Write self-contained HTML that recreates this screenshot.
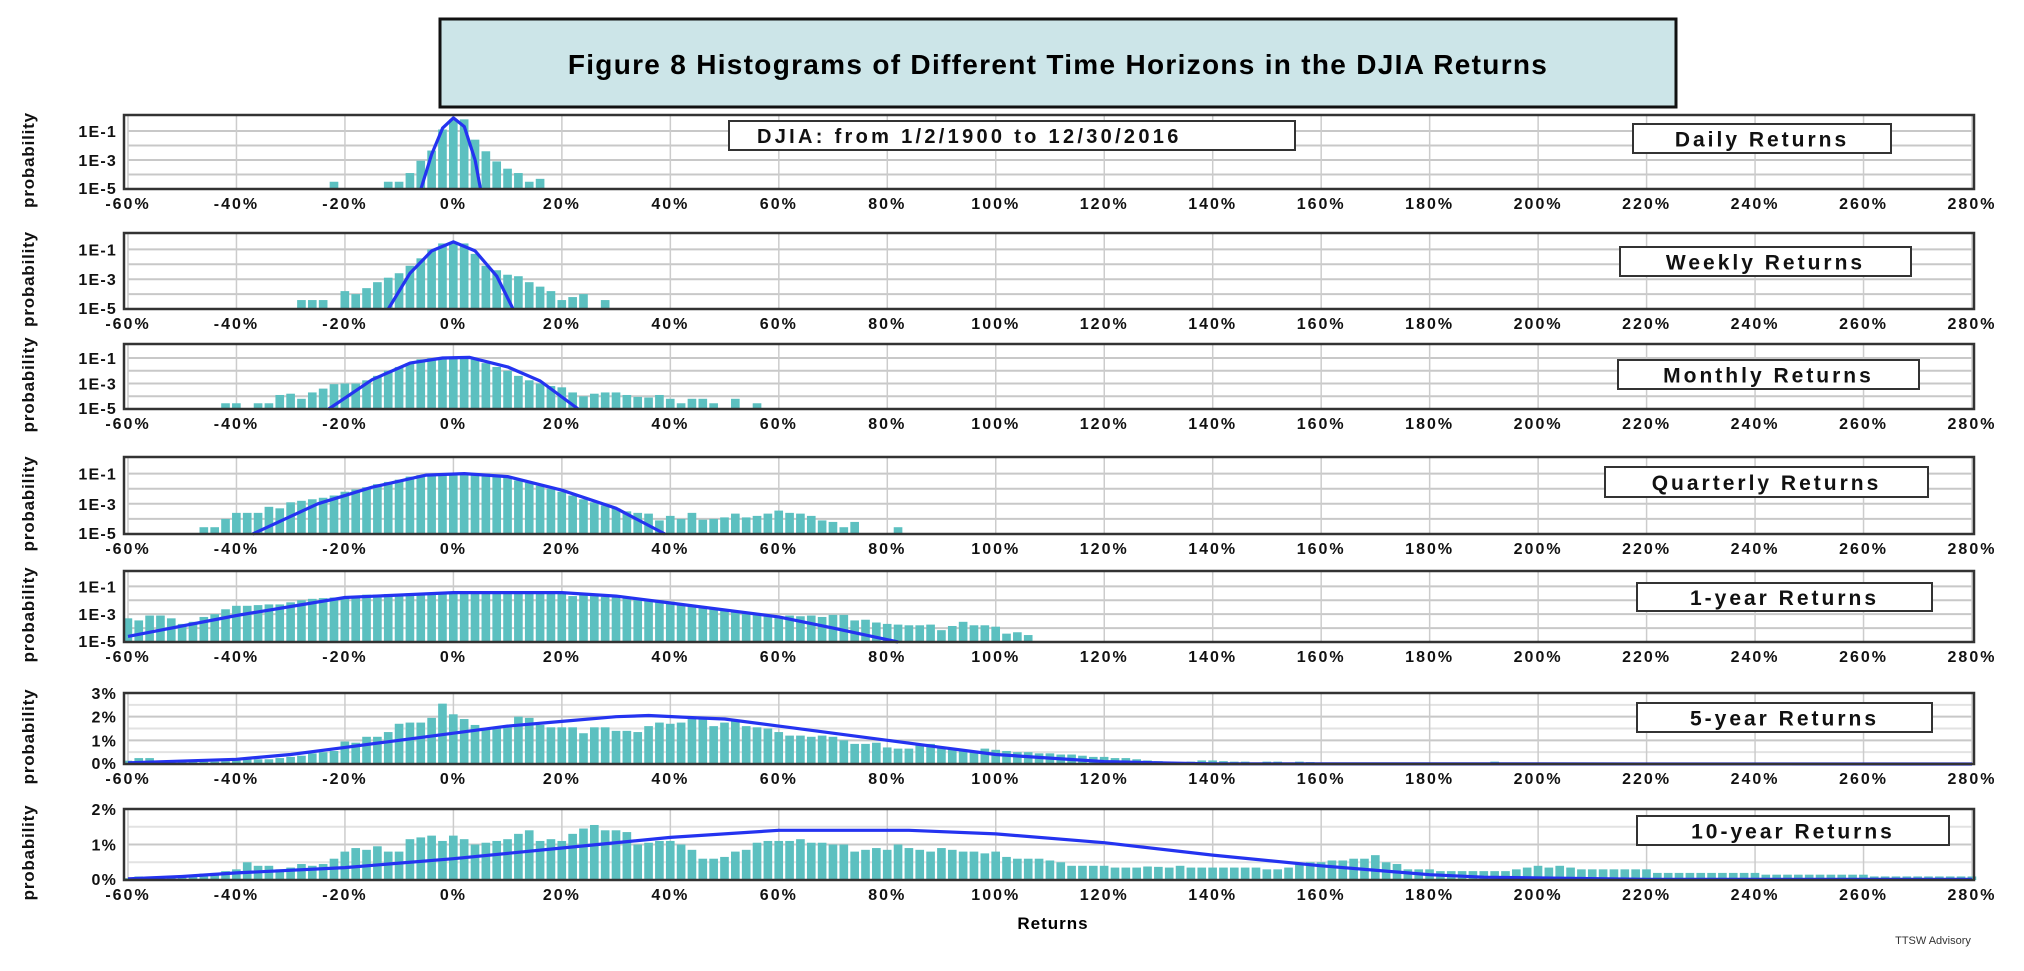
<!DOCTYPE html>
<html><head><meta charset="utf-8">
<style>
body{margin:0;background:#fff;width:2024px;height:966px;overflow:hidden;font-family:"Liberation Sans",Arial,sans-serif}
svg text{font-family:"Liberation Sans",Arial,sans-serif}
</style></head>
<body>
<svg id="chart" width="2024" height="966" xmlns="http://www.w3.org/2000/svg">
<rect x="440" y="19" width="1236" height="88" fill="#cce5e8" stroke="#111" stroke-width="3"/>
<text x="1058" y="74" text-anchor="middle" font-size="28" font-weight="bold" letter-spacing="1.3" fill="#000">Figure 8 Histograms of Different Time Horizons in the DJIA Returns</text>
<text x="1053" y="929" text-anchor="middle" font-size="17" font-weight="bold" letter-spacing="1">Returns</text>
<text x="1933" y="944" text-anchor="middle" font-size="11" fill="#333">TTSW Advisory</text>
<g id="panels"></g>
</svg>
<script>
// ---- data (bins every 2% of return) ----
const xTicks = [-60,-40,-20,0,20,40,60,80,100,120,140,160,180,200,220,240,260,280];
const logTickLabels = ["1E-1","1E-3","1E-5"];
const logTickValues = [-1,-3,-5];
const panelNames = ["Daily Returns","Weekly Returns","Monthly Returns","Quarterly Returns","1-year Returns","5-year Returns","10-year Returns"];

const dailyStart = -22;
const dailyLog = [-4.5,null,null,null,null,-4.5,-4.5,-3.9,-3.05,-2.35,-0.9,-0.2,-0.2,-1.6,-2.4,-3.1,-3.6,-3.9,-4.5,-4.3];
const dailyCurveX = [-6,-4,-2,0,2,4,5];
const dailyCurveY = [-5,-2.6,-0.8,-0.1,-0.7,-3,-5];

const weeklyStart = -28;
const weeklyLog = [-4.4,-4.4,-4.4,null,-3.8,-4.0,-3.6,-3.2,-2.9,-2.6,-2.1,-1.6,-1.0,-0.6,-0.5,-0.6,-1.3,-2.1,-2.4,-2.7,-2.8,-3.2,-3.5,-3.8,-4.4,-4.2,-4.0,null,-4.4];
const weeklyCurveX = [-12,-8,-4,0,4,8,11];
const weeklyCurveY = [-5,-2.6,-1.1,-0.5,-1.1,-2.8,-5];

const monthlyStart = -42;
const monthlyLog = [-4.55,-4.55,null,-4.55,-4.55,-3.9,-3.8,-4.2,-3.7,-3.4,-3.05,-3,-3,-2.75,-2.4,-2,-1.7,-1.4,-1.1,-1,-1,-1,-1,-1.1,-1.4,-1.7,-2,-2.4,-2.75,-3,-3.2,-3.3,-3.7,-4,-3.8,-3.7,-3.7,-3.9,-4.05,-4.1,-3.9,-4.2,-4.55,-4.2,-4.2,-4.55,null,-4.2,null,-4.55];
const monthlyCurveX = [-23,-15,-8,-2,3,10,16,23];
const monthlyCurveY = [-5,-2.7,-1.4,-1,-0.95,-1.7,-2.8,-5];

const quarterlyStart = -46;
const quarterlyLog = [-4.55,-4.55,-4,-3.6,-3.6,-3.6,-3.2,-3.3,-2.9,-2.8,-2.7,-2.6,-2.45,-2.2,-2.05,-1.9,-1.7,-1.55,-1.4,-1.2,-1.1,-1.05,-1,-1,-1,-1,-1,-1.1,-1.2,-1.45,-1.6,-1.8,-2,-2.2,-2.45,-2.7,-2.9,-3.1,-3.3,-3.5,-3.6,-3.65,-4.1,-3.8,-4,-3.6,-4.05,-4,-3.9,-3.65,-3.9,-3.8,-3.65,-3.45,-3.6,-3.65,-3.8,-4.1,-4.2,-4.55,-4.2,null,null,null,-4.55];
const quarterlyCurveX = [-37,-25,-15,-5,2,10,20,30,39];
const quarterlyCurveY = [-5,-3,-1.9,-1.1,-1,-1.2,-2.1,-3.3,-5];

const yearStart = -60;
const yearLog = [-3.3,-3.45,-3.1,-3.1,-3.3,-3.7,-3.55,-3.2,-3,-2.65,-2.4,-2.4,-2.35,-2.3,-2.3,-2.15,-2.0,-1.9,-1.85,-1.8,-1.8,-1.7,-1.6,-1.6,-1.55,-1.55,-1.5,-1.5,-1.45,-1.45,-1.45,-1.45,-1.45,-1.45,-1.45,-1.45,-1.45,-1.45,-1.45,-1.45,-1.45,-1.7,-1.6,-1.7,-1.75,-1.8,-1.85,-1.9,-1.95,-2.0,-2.1,-2.25,-2.35,-2.5,-2.6,-2.75,-2.85,-2.95,-3.0,-3.1,-3.2,-3.1,-3.15,-3.1,-3.2,-3.05,-3.05,-3.45,-3.4,-3.6,-3.7,-3.75,-3.8,-3.8,-3.75,-4.15,-3.85,-3.55,-3.8,-3.8,-3.9,-4.4,-4.3,-4.5];
const yearCurveX = [-60,-40,-20,0,20,30,40,60,70,82];
const yearCurveY = [-4.6,-3.1,-1.8,-1.45,-1.45,-1.7,-2.2,-3.2,-4,-5];

const fiveStart = -60;
const fivePct = [0.14,0.25,0.25,0.1,0.1,0.1,0.1,0.1,0.1,0.12,0.15,0.2,0.2,0.2,0.25,0.3,0.35,0.45,0.5,0.55,0.95,0.9,1.15,1.15,1.35,1.7,1.75,1.75,1.95,2.55,2.1,1.9,1.65,1.45,1.5,1.6,2.0,1.95,1.65,1.55,1.55,1.55,1.3,1.55,1.55,1.4,1.4,1.35,1.6,1.75,1.7,1.75,1.95,1.9,1.6,1.75,1.85,1.6,1.55,1.5,1.35,1.2,1.2,1.15,1.2,1.15,1.0,0.85,0.85,0.9,0.7,0.65,0.65,0.85,0.85,0.7,0.6,0.55,0.55,0.65,0.6,0.55,0.5,0.5,0.45,0.45,0.4,0.4,0.35,0.3,0.3,0.25,0.25,0.2,0.15,0.12,0.1,0.08,0.1,0.15,0.15,0.12,0.1,0.1,0.06,0.1,0.1,0.06,0.1,0.08,0.05,0.05,0.06,0.05,0.05,0.05,0.05,0.05,0.05,0.05,0.05,0.06,0.06,0.05,0.05,0.05,0.1,0.05,0.05,0.05,0.05,0.05];
const fiveCurveX = [-60,-40,-30,-20,-10,0,10,20,30,36,45,50,60,70,80,90,100,110,120,130,140,280];
const fiveCurveY = [0.05,0.2,0.4,0.7,1.0,1.3,1.6,1.8,2.0,2.05,1.95,1.9,1.6,1.3,1.0,0.7,0.4,0.25,0.1,0.05,0.01,0];
const fiveTickLabels = ["3%","2%","1%","0%"];
const fiveTickValues = [3,2,1,0];

const tenStart = -60;
const tenPct = [0.05,0.1,0.1,0.1,0.1,0.1,0.15,0.18,0.2,0.25,0.3,0.5,0.4,0.4,0.3,0.35,0.45,0.4,0.45,0.6,0.8,0.9,0.85,0.95,0.8,0.8,1.15,1.2,1.25,1.1,1.25,1.15,1.0,1.05,1.1,1.15,1.3,1.4,1.1,1.15,1.1,1.3,1.45,1.55,1.4,1.4,1.35,1.0,1.05,1.1,1.1,1.0,0.85,0.6,0.6,0.65,0.8,0.85,1.05,1.1,1.1,1.1,1.15,1.05,1.05,1.0,1.0,0.8,0.85,0.9,0.85,1.0,0.9,0.85,0.8,0.9,0.85,0.8,0.8,0.75,0.8,0.65,0.6,0.6,0.6,0.55,0.5,0.4,0.4,0.4,0.4,0.35,0.35,0.35,0.38,0.37,0.35,0.4,0.35,0.35,0.35,0.35,0.35,0.35,0.35,0.3,0.3,0.35,0.45,0.5,0.5,0.55,0.55,0.6,0.6,0.7,0.5,0.45,0.3,0.3,0.3,0.25,0.25,0.25,0.25,0.25,0.25,0.25,0.3,0.35,0.4,0.35,0.4,0.35,0.3,0.3,0.3,0.3,0.3,0.3,0.3,0.2,0.2,0.2,0.2,0.2,0.2,0.2,0.2,0.2,0.2,0.15,0.15,0.15,0.15,0.15,0.15,0.15,0.15,0.15,0.15,0.1,0.1,0.1,0.1,0.1,0.1,0.1,0.1,0.1,0.1];
const tenCurveX = [-60,-50,-40,-20,0,20,40,60,84,100,120,140,160,180,190,220,280];
const tenCurveY = [0.03,0.1,0.2,0.35,0.6,0.9,1.2,1.4,1.4,1.3,1.05,0.7,0.4,0.15,0.08,0.02,0.02];
const tenTickLabels = ["2%","1%","0%"];
const tenTickValues = [2,1,0];

// ---- layout ----
const NS = "http://www.w3.org/2000/svg";
const g = document.getElementById("panels");
const X0 = 128, X1 = 1972, XMIN = -60, XMAX = 280;
const xScale = v => X0 + (v - XMIN) / (XMAX - XMIN) * (X1 - X0);
const binW = (X1 - X0) / (XMAX - XMIN) * 2;
const TEAL = "#5cc0c0", BLUE = "#2433f0";
const LOGMAX = 0.1;

function mk(tag, attrs, parent) {
  const e = document.createElementNS(NS, tag);
  for (const k in attrs) e.setAttribute(k, attrs[k]);
  (parent || g).appendChild(e);
  return e;
}

const panels = [
  {top:115,bottom:189,log:true,start:dailyStart,vals:dailyLog,cx:dailyCurveX,cy:dailyCurveY,box:[1633,124,258,29],note:true},
  {top:233,bottom:309,log:true,start:weeklyStart,vals:weeklyLog,cx:weeklyCurveX,cy:weeklyCurveY,box:[1620,247,291,29]},
  {top:344,bottom:409,log:true,start:monthlyStart,vals:monthlyLog,cx:monthlyCurveX,cy:monthlyCurveY,box:[1618,360,301,29]},
  {top:457,bottom:534,log:true,start:quarterlyStart,vals:quarterlyLog,cx:quarterlyCurveX,cy:quarterlyCurveY,box:[1605,467,323,30]},
  {top:571,bottom:642,log:true,start:yearStart,vals:yearLog,cx:yearCurveX,cy:yearCurveY,box:[1637,583,295,28]},
  {top:693,bottom:764,log:false,max:3,start:fiveStart,vals:fivePct,cx:fiveCurveX,cy:fiveCurveY,box:[1637,703,295,29],tl:fiveTickLabels,tv:fiveTickValues,grid:[0.5,1,1.5,2,2.5]},
  {top:809,bottom:880,log:false,max:2,start:tenStart,vals:tenPct,cx:tenCurveX,cy:tenCurveY,box:[1637,816,312,29],tl:tenTickLabels,tv:tenTickValues,grid:[0.5,1,1.5]}
];

panels.forEach((p, i) => {
  const pg = mk("g", {});
  
  
  const yS = p.log ? (v => p.bottom - (v + 5) / (LOGMAX + 5) * (p.bottom - p.top))
                   : (v => p.bottom - v / p.max * (p.bottom - p.top));
  const gridVals = p.log ? [-4,-3,-2,-1] : p.grid;
  gridVals.forEach(v => {
    const ln = mk("line", {x1:X0, x2:X1, y1:yS(v), y2:yS(v), stroke:(p.log || v % 1 === 0) ? "#c8c8c8" : "#e2e2e2", "stroke-width":2}, pg);
    
    
  });
  xTicks.forEach(t => {
    const ln = mk("line", {x1:xScale(t), x2:xScale(t), y1:p.top, y2:p.bottom, stroke:"#cccccc", "stroke-width":1.5}, pg);
    
    
  });
  p.vals.forEach((v, j) => {
    if (v === null) return;
    const c = p.start + j * 2;
    const y = yS(v);
    const r = mk("rect", {x:xScale(c) - binW / 2 + 1, y:y, width:binW - 2.2, height:Math.max(0, p.bottom - y), fill:TEAL}, pg);
    
    
  });
  let d = "";
  p.cx.forEach((x, j) => { d += (j ? "L" : "M") + xScale(x).toFixed(1) + "," + yS(p.cy[j]).toFixed(1); });
  const cl = mk("path", {d:d, fill:"none", stroke:BLUE, "stroke-width":3.2, "stroke-linejoin":"round"}, pg);
  
  
  const fr = mk("rect", {x:X0 - 4, y:p.top, width:X1 - X0 + 6, height:p.bottom - p.top, fill:"none", stroke:"#333", "stroke-width":2.5}, pg);
  
  
  xTicks.forEach(t => {
    const tx = mk("text", {x:xScale(t), y:p.bottom + 20, "text-anchor":"middle", "font-size":16, "font-weight":"bold", "letter-spacing":2, fill:"#111"}, pg);
    tx.textContent = t + "%";
    
    
  });
  const tl = p.log ? logTickLabels : p.tl;
  const tv = p.log ? logTickValues : p.tv;
  tl.forEach((lab, j) => {
    const ty = mk("text", {x:117, y:Math.min(yS(tv[j]) + 6, p.bottom + 5), "text-anchor":"end", "font-size":16, "font-weight":"bold", "letter-spacing":1.2, fill:"#111"}, pg);
    ty.textContent = lab;
    
    
  });
  const cy = (p.top + p.bottom) / 2 + 8;
  const yt = mk("text", {x:34, y:cy, "text-anchor":"middle", "font-size":17, "font-weight":"bold", "letter-spacing":0.8, fill:"#111", transform:"rotate(-90 34 " + cy + ")"}, pg);
  yt.textContent = "probability";
  
  
  const b = p.box;
  const lb = mk("rect", {x:b[0], y:b[1], width:b[2], height:b[3], fill:"#fff", stroke:"#333", "stroke-width":2}, pg);
  
  
  const lt = mk("text", {x:b[0] + b[2] / 2, y:b[1] + b[3] / 2 + 8, "text-anchor":"middle", "font-size":21, "font-weight":"bold", "letter-spacing":3, fill:"#111"}, pg);
  lt.textContent = panelNames[i];
  
  
  if (p.note) {
    const nb = mk("rect", {x:729, y:121, width:566, height:29, fill:"#fff", stroke:"#333", "stroke-width":2}, pg);
    
    
    const nt = mk("text", {x:757, y:143, "text-anchor":"start", "font-size":20, "font-weight":"bold", "letter-spacing":3.3, fill:"#111"}, pg);
    nt.textContent = "DJIA: from 1/2/1900 to 12/30/2016";
    
    
  }
});
</script>
</body></html>
